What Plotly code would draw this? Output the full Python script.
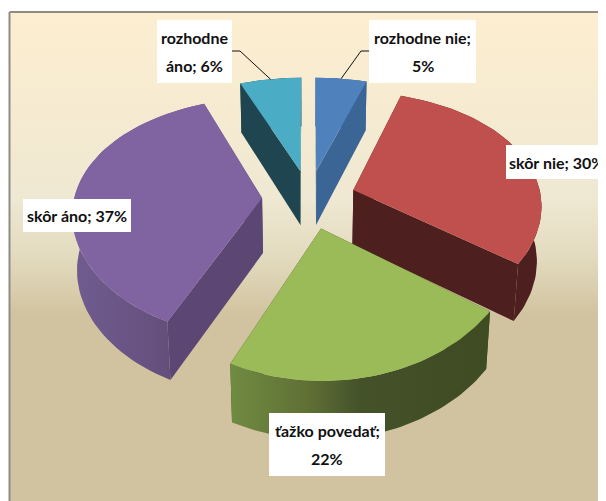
import numpy as np
import plotly.graph_objects as go

names = ['rozhodne nie', 'skôr nie', 'ťažko povedať', 'skôr áno', 'rozhodne áno']
values = [5, 30, 22, 37, 6]

top_colors = ['#4f81bd', '#c0504d', '#9bbb59', '#8064a2', '#4bacc6']
wall_colors = ['#3b6595', '#4e1f1f', '#3f4b22', '#5c4674', '#1f4650']
rim_stops = [
    None,
    None,
    [[0, '#708b42'], [0.3, '#5f7035'], [0.5, '#44522a'], [1, '#3f4b22']],
    [[0, '#705c90'], [0.6, '#66517f'], [1, '#5c4674']],
    None,
]
# white label boxes: left, top, width, height
label_boxes = [(369, 20, 107, 63), (506, 145, 100, 34), (269, 413, 116, 63),
               (23, 199, 108, 33), (157, 20, 75, 63)]
draw_order = [0, 4, 3, 1, 2]

# projection of the exploded pie
CX, CY = 309, 199
A, B, D = 188, 117, 55
KX, KY, M = 0.115, 0.162, 0.02
EXPLODE = 0.25


def project(px, py, z=0):
    # z is -1 on the lower face, which sits a little further from the camera
    sx = CX + A * px / (1 + KX * py - M * z)
    sy = CY - B * py / (1 + KY * py - M * z) - D * z * (1 - 0.12 * py)
    return sx, sy


edges = np.cumsum([0] + values) / sum(values) * 2 * np.pi

fig = go.Figure()

# chart background with the cream to tan fade
fig.add_trace(go.Scatter(
    x=[9.5, 620, 620, 9.5, 9.5], y=[12, 12, 520, 520, 12], mode='lines',
    fill='toself', line=dict(color='#8f8c86', width=2),
    fillgradient=dict(type='vertical', start=12, stop=501, colorscale=[
        [0, '#fdeed0'], [0.38, '#efe8d2'], [0.5, '#e3dbbf'],
        [0.62, '#d1c39f'], [1, '#d1c39f']]),
    hoverinfo='skip'))


def poly(xs, ys, color=None, stops=None):
    kw = dict(fillcolor=color)
    if stops is not None:
        kw = dict(fillgradient=dict(type='horizontal', colorscale=stops))
    fig.add_trace(go.Scatter(x=list(xs) + [xs[0]], y=list(ys) + [ys[0]], mode='lines',
                             fill='toself', line=dict(width=0),
                             hoverinfo='skip', **kw))


for i in draw_order:
    t0, t1 = edges[i], edges[i + 1]
    mid = (t0 + t1) / 2
    ox, oy = EXPLODE * np.sin(mid), EXPLODE * np.cos(mid)
    t = np.linspace(t0, t1, 60)
    rx, ry = ox + np.sin(t), oy + np.cos(t)

    top_x, top_y = project(rx, ry)
    low_x, low_y = project(rx, ry, -1)
    ax, ay = project(ox, oy)
    bx, by = project(ox, oy, -1)

    # radial walls, outer rim, then the top face over them
    poly([ax, top_x[0], low_x[0], bx], [ay, top_y[0], low_y[0], by], wall_colors[i])
    poly([ax, top_x[-1], low_x[-1], bx], [ay, top_y[-1], low_y[-1], by], wall_colors[i])
    poly(np.r_[top_x, low_x[::-1]], np.r_[top_y, low_y[::-1]], wall_colors[i], rim_stops[i])
    poly(np.r_[ax, top_x], np.r_[ay, top_y], top_colors[i])

# leader lines of the two small slices
for i, lx, ly in [(0, 361, 51), (4, 240, 51)]:
    mid = (edges[i] + edges[i + 1]) / 2
    ex, ey = project(EXPLODE * np.sin(mid) + np.sin(mid), EXPLODE * np.cos(mid) + np.cos(mid))
    end = label_boxes[i][0] if i == 0 else label_boxes[i][0] + label_boxes[i][2]
    fig.add_trace(go.Scatter(x=[ex, lx, end], y=[ey, ly, ly], mode='lines',
                             line=dict(color='#111111', width=1), hoverinfo='skip'))

label_lines = [
    [f'{names[0]};', f'{values[0]}%'],
    [f'{names[1]}; {values[1]}%'],
    [f'{names[2]};', f'{values[2]}%'],
    [f'{names[3]}; {values[3]}%'],
    ['rozhodne', f'áno; {values[4]}%'],
]
for lines, box in zip(label_lines, label_boxes):
    left, top, w, h = box
    fig.add_shape(type='rect', x0=left, x1=left + w, y0=top, y1=top + h,
                  fillcolor='white', line_width=0)
    step = 28
    start = top + h / 2 - step * (len(lines) - 1) / 2
    for n, line in enumerate(lines):
        fig.add_annotation(x=left + w / 2, y=start + n * step, xref='x', yref='y',
                           text=line, showarrow=False, align='center',
                           font=dict(family='Lato, sans-serif', size=16,
                                     color='#111111', weight='bold'))

# the page has an 8px margin, so the axes start there
fig.update_xaxes(range=[8, 606], visible=False, fixedrange=True)
fig.update_yaxes(range=[501, 8], visible=False, fixedrange=True)
fig.update_layout(width=598, height=493, margin=dict(l=0, r=0, t=0, b=0),
                  showlegend=False, paper_bgcolor='white', plot_bgcolor='white')
fig.write_html("out.html")
